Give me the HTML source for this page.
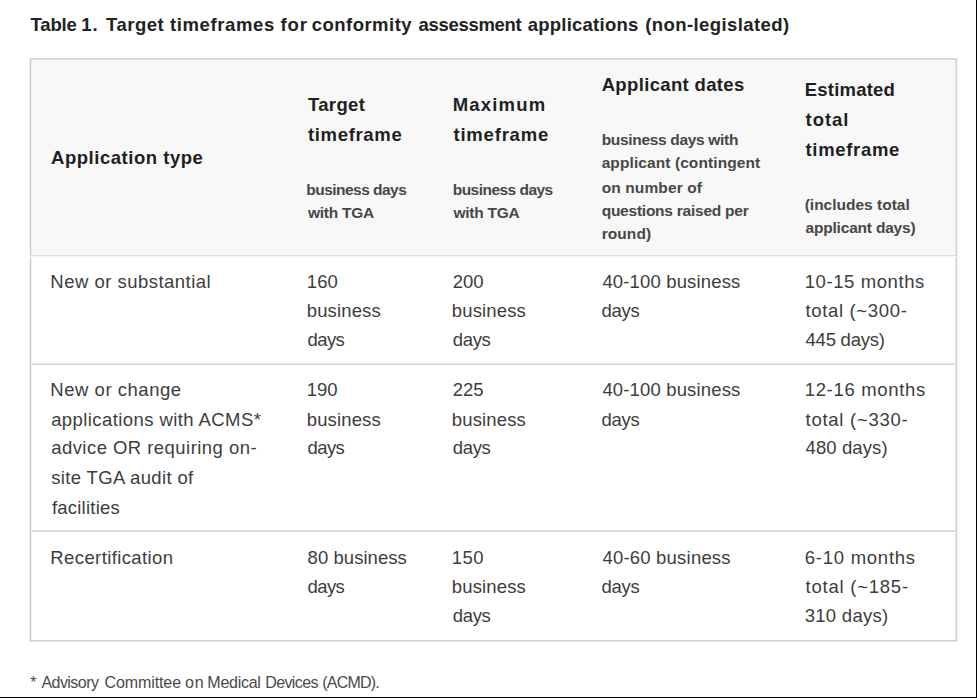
<!DOCTYPE html>
<html><head><meta charset="utf-8"><style>
html,body{margin:0;padding:0;background:#fff;}
body{width:977px;height:698px;position:relative;overflow:hidden;font-family:"Liberation Sans",sans-serif;}
.t{position:absolute;white-space:nowrap;}
.r{position:absolute;}
</style></head><body>
<div class="r" style="left:30px;top:60px;width:926px;height:195px;background:#f8f8f8"></div>
<div class="r" style="left:30px;top:58px;width:927px;height:2px;background:#d8d8d8"></div>
<div class="r" style="left:30px;top:640px;width:927px;height:1px;background:#d0d0d0"></div>
<div class="r" style="left:30px;top:641px;width:927px;height:1px;background:#e8e8e8"></div>
<div class="r" style="left:29px;top:58px;width:1px;height:584px;background:#f3f3f3"></div>
<div class="r" style="left:30px;top:58px;width:1px;height:584px;background:#cdcdcd"></div>
<div class="r" style="left:31px;top:60px;width:1px;height:580px;background:#efefef"></div>
<div class="r" style="left:955px;top:60px;width:1px;height:580px;background:#e6e6e6"></div>
<div class="r" style="left:956px;top:58px;width:1px;height:584px;background:#d0d0d0"></div>
<div class="r" style="left:957px;top:58px;width:1px;height:584px;background:#f8f8f8"></div>
<div class="r" style="left:30px;top:255px;width:928px;height:1px;background:#dfdfdf"></div>
<div class="r" style="left:30px;top:256px;width:928px;height:1px;background:#f7f7f7"></div>
<div class="r" style="left:32px;top:363px;width:923px;height:1px;background:#ebebeb"></div>
<div class="r" style="left:32px;top:364px;width:923px;height:1px;background:#d7d7d7"></div>
<div class="r" style="left:32px;top:530px;width:923px;height:2px;background:#dcdcdc"></div>
<div class="t" id="L0" style="left:30.46px;top:14px;font-size:18.5px;line-height:22px;font-weight:700;color:#222;letter-spacing:-0.135px">Table</div>
<div class="t" id="L1" style="left:81.24px;top:14px;font-size:18.5px;line-height:22px;font-weight:700;color:#222;letter-spacing:0.900px">1.</div>
<div class="t" id="L2" style="left:106.04px;top:14px;font-size:18.5px;line-height:22px;font-weight:700;color:#222;letter-spacing:0.504px">Target</div>
<div class="t" id="L3" style="left:170.00px;top:14px;font-size:18.5px;line-height:22px;font-weight:700;color:#222;letter-spacing:0.620px">timeframes</div>
<div class="t" id="L4" style="left:280.50px;top:14px;font-size:18.5px;line-height:22px;font-weight:700;color:#222;letter-spacing:0.900px">for</div>
<div class="t" id="L5" style="left:311.66px;top:14px;font-size:18.5px;line-height:22px;font-weight:700;color:#222;letter-spacing:0.480px">conformity</div>
<div class="t" id="L6" style="left:418.54px;top:14px;font-size:18.5px;line-height:22px;font-weight:700;color:#222;letter-spacing:-0.300px">assessment</div>
<div class="t" id="L7" style="left:527.66px;top:14px;font-size:18.5px;line-height:22px;font-weight:700;color:#222;letter-spacing:0.245px">applications</div>
<div class="t" id="L8" style="left:645.16px;top:14px;font-size:18.5px;line-height:22px;font-weight:700;color:#222;letter-spacing:0.420px">(non-legislated)</div>
<div class="t" id="L9" style="left:51.08px;top:147px;font-size:18.5px;line-height:22px;font-weight:700;color:#1f1f1f;letter-spacing:0.528px">Application type</div>
<div class="t" id="L10" style="left:307.92px;top:94px;font-size:18.5px;line-height:22px;font-weight:700;color:#1f1f1f;letter-spacing:0.360px">Target</div>
<div class="t" id="L11" style="left:307.92px;top:124px;font-size:18.5px;line-height:22px;font-weight:700;color:#1f1f1f;letter-spacing:0.675px">timeframe</div>
<div class="t" id="L12" style="left:306.32px;top:180px;font-size:15.5px;line-height:19px;font-weight:700;color:#474747;letter-spacing:-0.525px">business days</div>
<div class="t" id="L13" style="left:307.92px;top:203px;font-size:15.5px;line-height:19px;font-weight:700;color:#474747;letter-spacing:-0.257px">with TGA</div>
<div class="t" id="L14" style="left:452.70px;top:94px;font-size:18.5px;line-height:22px;font-weight:700;color:#1f1f1f;letter-spacing:1.200px">Maximum</div>
<div class="t" id="L15" style="left:453.50px;top:124px;font-size:18.5px;line-height:22px;font-weight:700;color:#1f1f1f;letter-spacing:0.787px">timeframe</div>
<div class="t" id="L16" style="left:452.70px;top:180px;font-size:15.5px;line-height:19px;font-weight:700;color:#474747;letter-spacing:-0.525px">business days</div>
<div class="t" id="L17" style="left:453.50px;top:203px;font-size:15.5px;line-height:19px;font-weight:700;color:#474747;letter-spacing:-0.257px">with TGA</div>
<div class="t" id="L18" style="left:601.66px;top:74px;font-size:18.5px;line-height:22px;font-weight:700;color:#1f1f1f;letter-spacing:0.347px">Applicant dates</div>
<div class="t" id="L19" style="left:601.66px;top:130px;font-size:15.5px;line-height:19px;font-weight:700;color:#474747;letter-spacing:-0.318px">business days with</div>
<div class="t" id="L20" style="left:601.66px;top:153px;font-size:15.5px;line-height:19px;font-weight:700;color:#474747;letter-spacing:0.090px">applicant (contingent</div>
<div class="t" id="L21" style="left:601.66px;top:178px;font-size:15.5px;line-height:19px;font-weight:700;color:#474747;letter-spacing:0.115px">on number of</div>
<div class="t" id="L22" style="left:601.66px;top:201px;font-size:15.5px;line-height:19px;font-weight:700;color:#474747;letter-spacing:-0.237px">questions raised per</div>
<div class="t" id="L23" style="left:601.66px;top:224px;font-size:15.5px;line-height:19px;font-weight:700;color:#474747;letter-spacing:0.072px">round)</div>
<div class="t" id="L24" style="left:804.70px;top:79px;font-size:18.5px;line-height:22px;font-weight:700;color:#1f1f1f;letter-spacing:0.225px">Estimated</div>
<div class="t" id="L25" style="left:805.50px;top:109px;font-size:18.5px;line-height:22px;font-weight:700;color:#1f1f1f;letter-spacing:0.990px">total</div>
<div class="t" id="L26" style="left:805.50px;top:139px;font-size:18.5px;line-height:22px;font-weight:700;color:#1f1f1f;letter-spacing:0.675px">timeframe</div>
<div class="t" id="L27" style="left:804.70px;top:195px;font-size:15.5px;line-height:19px;font-weight:700;color:#474747;letter-spacing:0.000px">(includes total</div>
<div class="t" id="L28" style="left:805.50px;top:218px;font-size:15.5px;line-height:19px;font-weight:700;color:#474747;letter-spacing:-0.193px">applicant days)</div>
<div class="t" id="L29" style="left:50.36px;top:271px;font-size:18.5px;line-height:22px;font-weight:400;color:#3d3d3d;letter-spacing:0.476px">New or substantial</div>
<div class="t" id="L30" style="left:306.78px;top:271px;font-size:18.5px;line-height:22px;font-weight:400;color:#3d3d3d;letter-spacing:0.090px">160</div>
<div class="t" id="L31" style="left:306.78px;top:300px;font-size:18.5px;line-height:22px;font-weight:400;color:#3d3d3d;letter-spacing:0.129px">business</div>
<div class="t" id="L32" style="left:307.58px;top:329px;font-size:18.5px;line-height:22px;font-weight:400;color:#3d3d3d;letter-spacing:-0.600px">days</div>
<div class="t" id="L33" style="left:452.66px;top:271px;font-size:18.5px;line-height:22px;font-weight:400;color:#3d3d3d;letter-spacing:0.000px">200</div>
<div class="t" id="L34" style="left:451.86px;top:300px;font-size:18.5px;line-height:22px;font-weight:400;color:#3d3d3d;letter-spacing:0.129px">business</div>
<div class="t" id="L35" style="left:452.66px;top:329px;font-size:18.5px;line-height:22px;font-weight:400;color:#3d3d3d;letter-spacing:-0.300px">days</div>
<div class="t" id="L36" style="left:602.42px;top:271px;font-size:18.5px;line-height:22px;font-weight:400;color:#3d3d3d;letter-spacing:0.154px">40-100 business</div>
<div class="t" id="L37" style="left:601.62px;top:300px;font-size:18.5px;line-height:22px;font-weight:400;color:#3d3d3d;letter-spacing:-0.300px">days</div>
<div class="t" id="L38" style="left:804.70px;top:271px;font-size:18.5px;line-height:22px;font-weight:400;color:#3d3d3d;letter-spacing:0.589px">10-15 months</div>
<div class="t" id="L39" style="left:805.50px;top:300px;font-size:18.5px;line-height:22px;font-weight:400;color:#3d3d3d;letter-spacing:0.655px">total (~300-</div>
<div class="t" id="L40" style="left:805.50px;top:329px;font-size:18.5px;line-height:22px;font-weight:400;color:#3d3d3d;letter-spacing:-0.225px">445 days)</div>
<div class="t" id="L41" style="left:50.36px;top:379px;font-size:18.5px;line-height:22px;font-weight:400;color:#3d3d3d;letter-spacing:0.525px">New or change</div>
<div class="t" id="L42" style="left:51.16px;top:409px;font-size:18.5px;line-height:22px;font-weight:400;color:#3d3d3d;letter-spacing:0.417px">applications with ACMS*</div>
<div class="t" id="L43" style="left:51.16px;top:437px;font-size:18.5px;line-height:22px;font-weight:400;color:#3d3d3d;letter-spacing:0.458px">advice OR requiring on-</div>
<div class="t" id="L44" style="left:51.16px;top:467px;font-size:18.5px;line-height:22px;font-weight:400;color:#3d3d3d;letter-spacing:0.349px">site TGA audit of</div>
<div class="t" id="L45" style="left:51.96px;top:497px;font-size:18.5px;line-height:22px;font-weight:400;color:#3d3d3d;letter-spacing:0.220px">facilities</div>
<div class="t" id="L46" style="left:306.78px;top:379px;font-size:18.5px;line-height:22px;font-weight:400;color:#3d3d3d;letter-spacing:-0.090px">190</div>
<div class="t" id="L47" style="left:306.78px;top:409px;font-size:18.5px;line-height:22px;font-weight:400;color:#3d3d3d;letter-spacing:0.129px">business</div>
<div class="t" id="L48" style="left:307.58px;top:437px;font-size:18.5px;line-height:22px;font-weight:400;color:#3d3d3d;letter-spacing:-0.600px">days</div>
<div class="t" id="L49" style="left:452.66px;top:379px;font-size:18.5px;line-height:22px;font-weight:400;color:#3d3d3d;letter-spacing:0.000px">225</div>
<div class="t" id="L50" style="left:451.86px;top:409px;font-size:18.5px;line-height:22px;font-weight:400;color:#3d3d3d;letter-spacing:0.129px">business</div>
<div class="t" id="L51" style="left:452.66px;top:437px;font-size:18.5px;line-height:22px;font-weight:400;color:#3d3d3d;letter-spacing:-0.300px">days</div>
<div class="t" id="L52" style="left:602.42px;top:379px;font-size:18.5px;line-height:22px;font-weight:400;color:#3d3d3d;letter-spacing:0.154px">40-100 business</div>
<div class="t" id="L53" style="left:601.62px;top:409px;font-size:18.5px;line-height:22px;font-weight:400;color:#3d3d3d;letter-spacing:-0.300px">days</div>
<div class="t" id="L54" style="left:804.70px;top:379px;font-size:18.5px;line-height:22px;font-weight:400;color:#3d3d3d;letter-spacing:0.671px">12-16 months</div>
<div class="t" id="L55" style="left:805.50px;top:409px;font-size:18.5px;line-height:22px;font-weight:400;color:#3d3d3d;letter-spacing:0.736px">total (~330-</div>
<div class="t" id="L56" style="left:805.50px;top:437px;font-size:18.5px;line-height:22px;font-weight:400;color:#3d3d3d;letter-spacing:0.113px">480 days)</div>
<div class="t" id="L57" style="left:50.36px;top:547px;font-size:18.5px;line-height:22px;font-weight:400;color:#3d3d3d;letter-spacing:0.386px">Recertification</div>
<div class="t" id="L58" style="left:307.58px;top:547px;font-size:18.5px;line-height:22px;font-weight:400;color:#3d3d3d;letter-spacing:0.054px">80 business</div>
<div class="t" id="L59" style="left:307.58px;top:576px;font-size:18.5px;line-height:22px;font-weight:400;color:#3d3d3d;letter-spacing:-0.600px">days</div>
<div class="t" id="L60" style="left:451.86px;top:547px;font-size:18.5px;line-height:22px;font-weight:400;color:#3d3d3d;letter-spacing:0.450px">150</div>
<div class="t" id="L61" style="left:451.86px;top:576px;font-size:18.5px;line-height:22px;font-weight:400;color:#3d3d3d;letter-spacing:0.129px">business</div>
<div class="t" id="L62" style="left:452.66px;top:605px;font-size:18.5px;line-height:22px;font-weight:400;color:#3d3d3d;letter-spacing:-0.300px">days</div>
<div class="t" id="L63" style="left:602.42px;top:547px;font-size:18.5px;line-height:22px;font-weight:400;color:#3d3d3d;letter-spacing:0.208px">40-60 business</div>
<div class="t" id="L64" style="left:601.62px;top:576px;font-size:18.5px;line-height:22px;font-weight:400;color:#3d3d3d;letter-spacing:-0.300px">days</div>
<div class="t" id="L65" style="left:804.70px;top:547px;font-size:18.5px;line-height:22px;font-weight:400;color:#3d3d3d;letter-spacing:0.756px">6-10 months</div>
<div class="t" id="L66" style="left:805.50px;top:576px;font-size:18.5px;line-height:22px;font-weight:400;color:#3d3d3d;letter-spacing:0.769px">total (~185-</div>
<div class="t" id="L67" style="left:804.70px;top:605px;font-size:18.5px;line-height:22px;font-weight:400;color:#3d3d3d;letter-spacing:0.293px">310 days)</div>
<div class="t" id="L68" style="left:30.16px;top:673px;font-size:16px;line-height:19px;font-weight:400;color:#4a4a4a;letter-spacing:0.000px">*</div>
<div class="t" id="L69" style="left:41.50px;top:673px;font-size:16px;line-height:19px;font-weight:400;color:#4a4a4a;letter-spacing:-0.566px">Advisory</div>
<div class="t" id="L70" style="left:104.62px;top:673px;font-size:16px;line-height:19px;font-weight:400;color:#4a4a4a;letter-spacing:-0.113px">Committee</div>
<div class="t" id="L71" style="left:185.08px;top:673px;font-size:16px;line-height:19px;font-weight:400;color:#4a4a4a;letter-spacing:0.720px">on</div>
<div class="t" id="L72" style="left:207.36px;top:673px;font-size:16px;line-height:19px;font-weight:400;color:#4a4a4a;letter-spacing:-0.270px">Medical</div>
<div class="t" id="L73" style="left:265.20px;top:673px;font-size:16px;line-height:19px;font-weight:400;color:#4a4a4a;letter-spacing:-0.600px">Devices</div>
<div class="t" id="L74" style="left:322.28px;top:673px;font-size:16px;line-height:19px;font-weight:400;color:#4a4a4a;letter-spacing:-0.810px">(ACMD).</div>
<div class="r" style="left:976px;top:0;width:1px;height:698px;background:#000"></div>
<div class="r" style="left:0;top:697px;width:977px;height:1px;background:#000"></div>
</body></html>
